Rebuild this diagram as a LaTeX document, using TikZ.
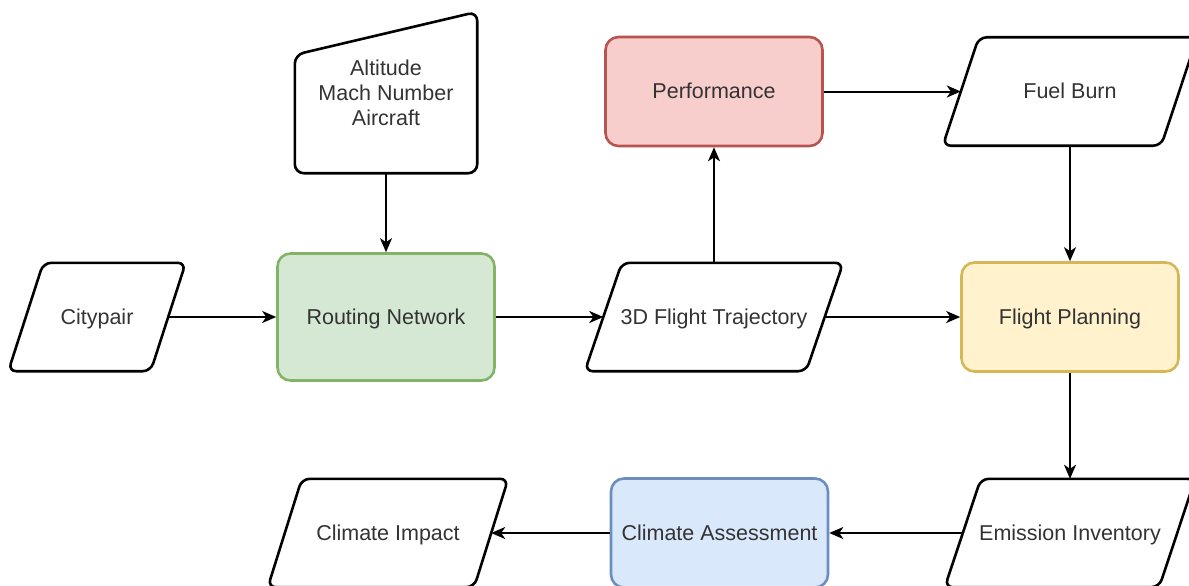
\documentclass[tikz,border=0pt]{standalone}
\usepackage{fontspec}
\setmainfont{Liberation Sans}
\usetikzlibrary{arrows.meta,calc}

\definecolor{textgray}{HTML}{333333}
\definecolor{greenfill}{HTML}{D5E8D4}
\definecolor{greenline}{HTML}{82B366}
\definecolor{redfill}{HTML}{F8CECC}
\definecolor{redline}{HTML}{B85450}
\definecolor{yellowfill}{HTML}{FFF2CC}
\definecolor{yellowline}{HTML}{D6B656}
\definecolor{bluefill}{HTML}{DAE8FC}
\definecolor{blueline}{HTML}{6C8EBF}

\tikzset{
  txt/.style={font=\fontsize{21.5}{25}\selectfont, text=textgray, align=center, inner sep=0pt},
  oneline/.style={txt, text height=17pt, text depth=3pt},
  procbox/.style={oneline, draw, line width=2.6pt, rounded corners=13pt,
                  minimum width=217pt, minimum height=109pt},
  iobase/.style={oneline, minimum height=108pt},
  ioline/.style={draw=black, line width=2.6pt, rounded corners=8pt},
  flow/.style={line width=2pt, -{Stealth[length=14pt,width=12pt,inset=4pt]}},
}

% outline of a data (parallelogram) node: #1 node name, #2 half of the slant
\newcommand\slantoutline[2]{%
  \draw[ioline] ($(#1.north west)+(#2,0)$) -- ($(#1.north east)+(#2,0)$)
    -- ($(#1.south east)-(#2,0)$) -- ($(#1.south west)-(#2,0)$) -- cycle;}

\begin{document}
\begin{tikzpicture}[x=1pt,y=-1pt]
\path[use as bounding box] (0,0) rectangle (1189,586);
\clip (0,0) rectangle (1189,586);

% processes
\node[procbox, fill=greenfill, draw=greenline, minimum height=127pt] (route) at (386,317) {Routing Network};
\node[procbox, fill=redfill, draw=redline] (perf) at (714,91.5) {Performance};
\node[procbox, fill=yellowfill, draw=yellowline] (plan) at (1070,317) {Flight Planning};
\node[procbox, fill=bluefill, draw=blueline] (assess) at (719.5,533) {Climate Assessment};

% data
\node[iobase, minimum width=142pt] (city) at (97,317) {Citypair};
\node[iobase, minimum width=221pt] (traj) at (714,317) {3D Flight Trajectory};
\node[iobase, minimum width=218pt] (fuel) at (1070,91.5) {Fuel Burn};
\node[iobase, minimum width=214pt] (emis) at (1070,533) {Emission Inventory};
\node[iobase, minimum width=206pt] (impact) at (388,533) {Climate Impact};
\slantoutline{city}{17.5}
\slantoutline{traj}{18.5}
\slantoutline{fuel}{18}
\slantoutline{emis}{18}
\slantoutline{impact}{17}

% manual input
\node[txt, minimum width=182pt, minimum height=161pt] (alt) at (386,92.5) {Altitude\\Mach Number\\Aircraft};
\draw[ioline, rounded corners=9pt] (alt.south west) -- ($(alt.north west)+(0,43)$)
  -- (alt.north east) -- (alt.south east) -- cycle;

% connectors
\draw[flow] (alt.south) -- (route.north);
\draw[flow] (city.east) -- (route.west);
\draw[flow] (route.east) -- (traj.west);
\draw[flow] (traj.north) -- (perf.south);
\draw[flow] (traj.east) -- (plan.west);
\draw[flow] (perf.east) -- (fuel.west);
\draw[flow] (fuel.south) -- (plan.north);
\draw[flow] (plan.south) -- (emis.north);
\draw[flow] (emis.west) -- (assess.east);
\draw[flow] (assess.west) -- (impact.east);
\end{tikzpicture}
\end{document}
